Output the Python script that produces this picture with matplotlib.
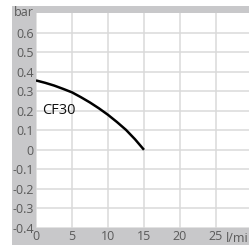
import matplotlib
matplotlib.use("Agg")
import matplotlib.pyplot as plt
import numpy as np

flow = [0, 1.25, 2.5, 3.75, 5, 6.25, 7.5, 8.75, 10, 11.25, 12.5, 13.75, 15]
pressure = [0.355, 0.343, 0.329, 0.312, 0.294, 0.269, 0.242, 0.212, 0.179, 0.142, 0.102, 0.054, 0.0]
xticks = [0, 5, 10, 15, 20, 25]
yticks = [-0.4, -0.3, -0.2, -0.1, 0, 0.1, 0.2, 0.3, 0.4, 0.5, 0.6]
ylabels = ["-0.4", "-0.3", "-0.2", "-0.1", "0", "0.1", "0.2", "0.3", "0.4", "0.5", "0.6"]
series_label = "CF30"

W, H = 249, 245
plt.rcParams['font.family'] = ['Open Sans', 'DejaVu Sans']
fig = plt.figure(figsize=(W / 100, H / 100), dpi=100)
fig.patch.set_facecolor("white")

gray = "#c8c8ca"
bg = fig.add_axes([12 / W, 0, 1 - 12 / W, 1 - 6 / H], zorder=-1)
bg.set_facecolor(gray)
bg.set_xticks([])
bg.set_yticks([])
for s in bg.spines.values():
    s.set_visible(False)

ax = fig.add_axes([36 / W, 17 / H, (W - 36) / W, (228 - 13) / H], zorder=1)
ax.set_facecolor("white")
ax.set_xlim(0, (W - 36) / 7.2)
ax.set_ylim(-0.4, 0.7)
for s in ax.spines.values():
    s.set_visible(False)

tc = "#5a5a5a"
ax.set_xticks(xticks)
ax.set_xticklabels([str(t) for t in xticks])
ax.set_yticks(yticks)
ax.set_yticklabels(ylabels)
ax.tick_params(length=0, labelsize=9, labelcolor=tc)
ax.tick_params(axis="y", pad=1.5)
ax.tick_params(axis="x", pad=1.5)
ax.grid(True, color="#dadada", linewidth=1.1)
ax.set_axisbelow(True)

ax.plot(flow, pressure, color="black", linewidth=1.8, solid_capstyle="butt",
        solid_joinstyle="round", zorder=3)
ax.text(0.9, 0.2, series_label, fontsize=10.5, color="#111111", va="center", ha="left")

fig.text(24 / W, 1 - 12 / H, "bar", fontsize=9, color=tc, ha="center", va="center")
fig.text(248.5 / W, 1 - 238 / H, "l/mi", fontsize=9, color=tc, ha="right", va="center")

fig.savefig("out.png", dpi=100, facecolor="white")
